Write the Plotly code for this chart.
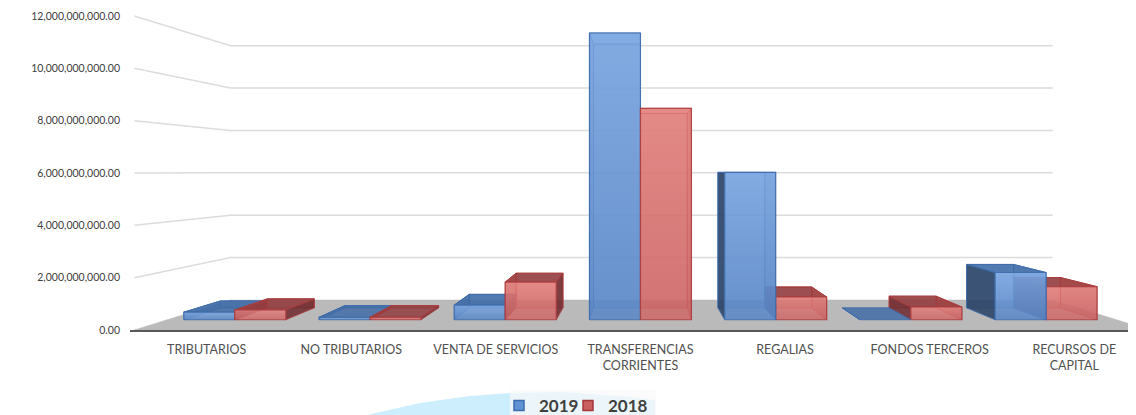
import plotly.graph_objects as go

categories = ["TRIBUTARIOS", "NO TRIBUTARIOS", "VENTA DE SERVICIOS", "TRANSFERENCIAS<br>CORRIENTES",
              "REGALIAS", "FONDOS TERCEROS", "RECURSOS DE<br>CAPITAL"]
values_2019 = [0.31e9, 0.10e9, 0.60e9, 11.72e9, 6.02e9, 0.0, 1.93e9]
values_2018 = [0.40e9, 0.10e9, 1.54e9, 8.64e9, 0.93e9, 0.52e9, 1.35e9]
y_ticks = [0, 2e9, 4e9, 6e9, 8e9, 10e9, 12e9]

PAGE_PAD = 8                 # the browser's default body margin
ML, MT, MB = 130, 10, 85     # page pixels
W, H = 1136 - PAGE_PAD, 415 - PAGE_PAD
VX, VY = 3, 6.04e9           # vanishing point in axis units
S_WALL, S_FRONT, S_BACK = 0.81, 0.935, 0.86
HALF = 0.377
X_LEFT, X_RIGHT = -0.5, 6.52
X_RANGE = [-0.53, 6.427]
Y_RANGE = [0, 12.23e9]

BLUE = dict(front_lo="rgba(88,134,198,0.85)", front_hi="rgba(122,166,226,0.85)", side_dark="rgba(42,66,100,0.88)",
            side_light="rgba(60,105,165,0.50)", top="rgba(58,104,165,0.80)", under="rgba(100,150,215,0.45)",
            back="rgba(70,120,190,0.40)", edge="rgba(62,108,170,0.85)")
RED = dict(front_lo="rgba(205,100,100,0.82)", front_hi="rgba(228,128,124,0.82)", side_dark="rgba(110,40,45,0.85)",
           side_light="rgba(165,60,60,0.50)", top="rgba(145,60,62,0.85)", under="rgba(215,110,108,0.45)",
           back="rgba(180,70,70,0.40)", edge="rgba(170,60,62,0.85)")


def px(x, s):
    return VX + (x - VX) * s


def py(v, s):
    return VY + (v - VY) * s


fig = go.Figure()


def poly(points, fill, line, width=1.2, gradient=None):
    xs = [px(x, s) for x, v, s in points]
    ys = [py(v, s) for x, v, s in points]
    kw = dict(fillgradient=dict(type="vertical", colorscale=gradient)) if gradient else dict(fillcolor=fill)
    fig.add_trace(go.Scatter(x=xs + xs[:1], y=ys + ys[:1], mode="lines", fill="toself",
                             line=dict(color=line, width=width), showlegend=False, hoverinfo="skip", **kw))


def seg(points, color, width):
    fig.add_trace(go.Scatter(x=[px(x, s) for x, v, s in points], y=[py(v, s) for x, v, s in points],
                             mode="lines", line=dict(color=color, width=width), showlegend=False, hoverinfo="skip"))


# floor
poly([(X_LEFT, 0, 1), (X_RIGHT, 0, 1), (X_RIGHT, 0, S_WALL), (X_LEFT, 0, S_WALL)], "#bababa", "#bababa", 0.5)

# walls' gridlines
for t in y_ticks[1:]:
    seg([(X_LEFT, t, 1), (X_LEFT, t, S_WALL), (X_RIGHT, t, S_WALL)], "#dcdcdc", 1.5)


def bar(x0, x1, v, c):
    f, b = S_FRONT, S_BACK
    if v > 0:
        poly([(x0, 0, b), (x1, 0, b), (x1, v, b), (x0, v, b)], c["back"], c["edge"], 1)
    if x1 < VX:
        poly([(x1, 0, f), (x1, 0, b), (x1, v, b), (x1, v, f)], c["side_dark"], c["edge"], 1)
    if x0 > VX:
        poly([(x0, 0, f), (x0, 0, b), (x0, v, b), (x0, v, f)], c["side_dark"], c["edge"], 1)
    poly([(x0, v, f), (x1, v, f), (x1, v, b), (x0, v, b)], c["under"] if v > VY else c["top"], c["edge"], 1)
    if v > 0:
        if x0 >= VX:
            poly([(x1, 0, f), (x1, 0, b), (x1, v, b), (x1, v, f)], c["side_light"], c["edge"], 1)
        if x1 <= VX:
            poly([(x0, 0, f), (x0, 0, b), (x0, v, b), (x0, v, f)], c["side_light"], c["edge"], 1)
        poly([(x0, 0, f), (x1, 0, f), (x1, v, f), (x0, v, f)], None, c["edge"], 1.2,
             gradient=[[0, c["front_lo"]], [1, c["front_hi"]]])


for i in range(len(categories)):
    blue = (i - HALF, i, values_2019[i], BLUE)
    red = (i, i + HALF, values_2018[i], RED)
    order = [red, blue] if i > VX else [blue, red]
    for item in order:
        bar(*item)

# legend keys
fig.add_trace(go.Scatter(x=[None], y=[None], mode="markers", name="2019", legend="legend",
                         marker=dict(symbol="square", size=10, color="#6092d6", line=dict(color="#3e6caa", width=1.5))))
fig.add_trace(go.Scatter(x=[None], y=[None], mode="markers", name="2018", legend="legend2",
                         marker=dict(symbol="square", size=10, color="#c95f5f", line=dict(color="#a5383a", width=1.5))))

PW, PH = W - (ML - PAGE_PAD), H - (MT - PAGE_PAD) - MB


def to_paper(p):
    # page pixel to paper coordinates, for the decorative backdrop and legend placement only
    return (p[0] - ML) / PW, 1 - (p[1] - MT) / PH


pts = [(367, 415), (420, 403), (470, 396), (510, 393), (560, 392), (620, 396), (655, 400), (655, 415)]
path = "M " + " L ".join("%.5f,%.5f" % to_paper(p) for p in pts) + " Z"
box = [to_paper((510, 390)), to_paper((656, 415))]
fig.add_shape(type="path", path=path, xref="paper", yref="paper", fillcolor="#cdeefc", line_width=0, layer="below")
fig.add_shape(type="rect", x0=box[0][0], y0=box[0][1], x1=box[1][0], y1=box[1][1], xref="paper", yref="paper",
              fillcolor="rgba(250,250,250,0.7)", line_width=0, layer="below")

legend_style = dict(orientation="h", xanchor="left", yanchor="middle", bgcolor="rgba(0,0,0,0)", itemwidth=30,
                    font=dict(family="Lato", size=17, color="#404040", weight="bold"))

fig.update_layout(
    width=W, height=H,
    margin=dict(l=ML - PAGE_PAD, r=0, t=MT - PAGE_PAD, b=MB, autoexpand=False),
    paper_bgcolor="white", plot_bgcolor="rgba(0,0,0,0)",
    font=dict(family="Lato", size=12, color="#595959"),
    showlegend=True,
    legend=dict(x=to_paper((499, 0))[0], y=to_paper((0, 406))[1], **legend_style),
    legend2=dict(x=to_paper((568, 0))[0], y=to_paper((0, 406))[1], **legend_style),
    xaxis=dict(range=X_RANGE, tickmode="array", tickvals=list(range(len(categories))), ticktext=categories,
               showgrid=False, zeroline=False, showline=True, linecolor="#595959", linewidth=2, ticks="",
               ticklabelstandoff=7, tickfont=dict(family="Lato", size=12.5, color="#505050")),
    yaxis=dict(range=Y_RANGE, tickmode="array", tickvals=y_ticks, tickformat=",.2f", showgrid=False,
               zeroline=False, showline=False, ticks="", ticklabelstandoff=9,
               tickfont=dict(family="Lato", size=10.5, color="#404040")),
)
fig.write_html("out.html")
